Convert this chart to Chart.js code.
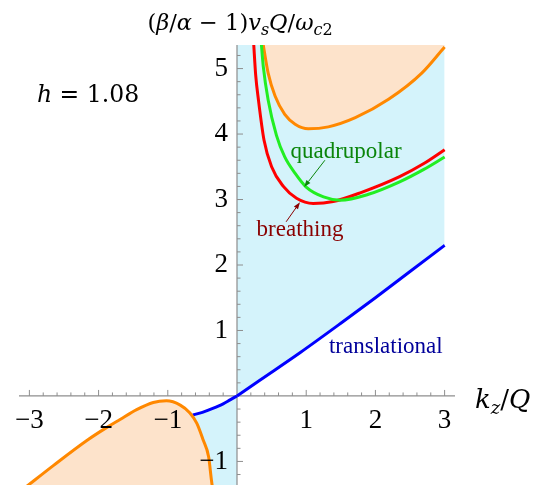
<!DOCTYPE html>
<html>
<head>
<meta charset="utf-8">
<script src="https://cdn.jsdelivr.net/npm/chart.js@4"></script>
<style>
    html, body { margin: 0; padding: 0; background: #fff; }
</style>
</head>
<body>
<canvas id="modesChart" width="543" height="485"></canvas>
<script>
// ====== 資料 (kz/Q, frequency) ======
const transNegKz = [-0.64, -0.5, -0.35, -0.2, -0.1, 0];
const transNegW  = [-0.29, -0.25, -0.19, -0.12, -0.06, 0];
const transPosKz = [0, 0.33, 0.91, 1.5, 2.0, 2.5, 3.0];
const transPosW  = [0, 0.24, 0.66, 1.11, 1.5, 1.9, 2.3];

const orangeLowKz = [-3.05, -2.65, -2.17, -1.88, -1.69, -1.45, -1.21, -1.02, -0.82, -0.68, -0.58, -0.49, -0.41, -0.37, -0.355];
const orangeLowW  = [-1.39, -1.06, -0.68, -0.48, -0.36, -0.21, -0.1, -0.075, -0.14, -0.26, -0.42, -0.67, -0.93, -1.28, -1.4];

const orangeUpKz = [0.37, 0.45, 0.55, 0.69, 0.84, 1.03, 1.32, 1.71, 2.19, 2.67, 3.0];
const orangeUpW  = [5.42, 4.93, 4.58, 4.3, 4.15, 4.08, 4.11, 4.25, 4.53, 4.93, 5.33];

const breathKz = [0.24, 0.27, 0.31, 0.39, 0.5, 0.67, 0.86, 1.1, 1.39, 1.8, 2.35, 2.7, 3.0];
const breathW  = [5.4, 4.9, 4.52, 3.91, 3.5, 3.2, 3.02, 2.94, 2.97, 3.11, 3.35, 3.55, 3.76];

const quadKz = [0.35, 0.38, 0.45, 0.57, 0.69, 0.84, 1.0, 1.25, 1.49, 1.9, 2.35, 2.7, 3.0];
const quadW  = [5.4, 5.03, 4.52, 3.98, 3.65, 3.4, 3.19, 3.04, 2.99, 3.08, 3.27, 3.46, 3.65];

const xTickLabels = [-3, -2, -1, 1, 2, 3];
const yTickLabels = [-1, 1, 2, 3, 4, 5];

const FONT = '"Liberation Serif", "DejaVu Serif", serif';
const MATH_FONT = '"DejaVu Serif", serif';
const CYAN = '#d4f3fb';
const PEACH = '#fde3cb';

function pts(xs, ys) {
    return xs.map((x, i) => ({ x: x, y: ys[i] }));
}

function fmt(v) {
    return v < 0 ? '\u2212' + Math.abs(v) : String(v);
}

// 數學式文字: [text, italic, sub]
function drawRich(ctx, x, y, parts, size, align) {
    const subSize = Math.round(size * 0.7);
    const fontOf = p => (p[1] ? 'italic ' : '') + (p[2] ? subSize : size) + 'px ' + MATH_FONT;
    let total = 0;
    parts.forEach(p => { ctx.font = fontOf(p); total += ctx.measureText(p[0]).width; });
    let cx = align === 'center' ? x - total / 2 : x;
    ctx.textAlign = 'left';
    ctx.textBaseline = 'alphabetic';
    parts.forEach(p => {
        ctx.font = fontOf(p);
        ctx.fillText(p[0], cx, p[2] ? y + size * 0.22 : y);
        cx += ctx.measureText(p[0]).width;
    });
}

function drawArrow(ctx, x1, y1, x2, y2, color) {
    const ang = Math.atan2(y2 - y1, x2 - x1);
    const hl = 7, hw = 2.5;
    ctx.strokeStyle = color;
    ctx.fillStyle = color;
    ctx.lineWidth = 1;
    ctx.beginPath();
    ctx.moveTo(x1, y1);
    ctx.lineTo(x2 - hl * Math.cos(ang), y2 - hl * Math.sin(ang));
    ctx.stroke();
    ctx.beginPath();
    ctx.moveTo(x2, y2);
    ctx.lineTo(x2 - hl * Math.cos(ang) + hw * Math.sin(ang), y2 - hl * Math.sin(ang) - hw * Math.cos(ang));
    ctx.lineTo(x2 - hl * Math.cos(ang) - hw * Math.sin(ang), y2 - hl * Math.sin(ang) + hw * Math.cos(ang));
    ctx.closePath();
    ctx.fill();
}

// 軸線與刻度 (Mathematica 風格, 軸交於原點)
const axesPlugin = {
    id: 'axesPlugin',
    beforeDatasetsDraw(chart) {
        const { ctx, chartArea, scales: { x: xs, y: ys } } = chart;
        const x0 = xs.getPixelForValue(0);
        const y0 = ys.getPixelForValue(0);
        ctx.save();
        ctx.strokeStyle = '#8e8e8e';
        ctx.lineWidth = 1.2;
        ctx.beginPath();
        ctx.moveTo(chartArea.left, y0);
        ctx.lineTo(chartArea.right, y0);
        ctx.moveTo(x0, chartArea.top);
        ctx.lineTo(x0, chartArea.bottom);
        ctx.stroke();

        ctx.lineWidth = 1;
        ctx.beginPath();
        for (let i = -15; i <= 15; i++) {
            if (i === 0) continue;
            const px = xs.getPixelForValue(i / 5);
            const len = i % 5 === 0 ? 6 : 3.5;
            ctx.moveTo(px, y0);
            ctx.lineTo(px, y0 - len);
        }
        for (let i = -6; i <= 26; i++) {
            if (i === 0) continue;
            const py = ys.getPixelForValue(i / 5);
            const len = i % 5 === 0 ? 6 : 3.5;
            ctx.moveTo(x0, py);
            ctx.lineTo(x0 + len, py);
        }
        ctx.stroke();
        ctx.restore();
    },
    afterDatasetsDraw(chart) {
        const { ctx, scales: { x: xs, y: ys } } = chart;
        const x0 = xs.getPixelForValue(0);
        const y0 = ys.getPixelForValue(0);
        ctx.save();
        ctx.fillStyle = '#000';
        ctx.font = '27px ' + FONT;
        ctx.textBaseline = 'middle';
        ctx.textAlign = 'center';
        xTickLabels.forEach(v => ctx.fillText(fmt(v), xs.getPixelForValue(v), y0 + 25));
        ctx.textAlign = 'right';
        yTickLabels.forEach(v => ctx.fillText(fmt(v), x0 - 9, ys.getPixelForValue(v)));

        // 軸標題
        drawRich(ctx, 240, 30, [
            ['(', 0], ['\u03b2', 1], ['/', 0], ['\u03b1', 1], [' \u2212 ', 0], ['1', 0], [')', 0],
            ['v', 1], ['s', 1, 1], ['Q', 1], ['/', 0], ['\u03c9', 1], ['c', 1, 1], ['2', 0, 1]
        ], 22.5, 'center');
        drawRich(ctx, 475, 408, [['k', 1], ['z', 1, 1], ['/', 0], ['Q', 1]], 26, 'left');
        drawRich(ctx, 37, 102, [['h', 1], [' = ', 0], ['1.08', 0]], 23.5, 'left');

        // 模態標籤
        ctx.font = '23px ' + FONT;
        ctx.textAlign = 'center';
        ctx.textBaseline = 'middle';
        ctx.fillStyle = '#0a850a';
        ctx.fillText('quadrupolar', xs.getPixelForValue(1.575), ys.getPixelForValue(3.72));
        ctx.fillStyle = '#8a0000';
        ctx.fillText('breathing', xs.getPixelForValue(0.91), ys.getPixelForValue(2.53));
        ctx.fillStyle = '#00009a';
        ctx.fillText('translational', xs.getPixelForValue(2.15), ys.getPixelForValue(0.75));

        drawArrow(ctx, xs.getPixelForValue(1.27), ys.getPixelForValue(3.6),
            xs.getPixelForValue(0.97), ys.getPixelForValue(3.19), '#0a850a');
        drawArrow(ctx, xs.getPixelForValue(0.71), ys.getPixelForValue(2.66),
            xs.getPixelForValue(0.91), ys.getPixelForValue(2.96), '#8a0000');
        ctx.restore();
    }
};

const lineBase = {
    pointRadius: 0,
    borderWidth: 3,
    cubicInterpolationMode: 'monotone',
    clip: 0
};

new Chart(document.getElementById('modesChart'), {
    type: 'line',
    data: {
        datasets: [
            { ...lineBase, label: 'quadrupolar', data: pts(quadKz, quadW), borderColor: '#22ee22', fill: false },
            { ...lineBase, label: 'breathing', data: pts(breathKz, breathW), borderColor: '#ff0000', fill: false },
            { ...lineBase, label: 'orange upper', data: pts(orangeUpKz, orangeUpW), borderColor: '#ff8800', backgroundColor: PEACH, fill: 'end' },
            { ...lineBase, label: 'orange lower', data: pts(orangeLowKz, orangeLowW), borderColor: '#ff8800', backgroundColor: PEACH, fill: 'start' },
            { ...lineBase, label: 'translational +', data: pts(transPosKz, transPosW), borderColor: '#0000ff', backgroundColor: CYAN, fill: 'end' },
            { ...lineBase, label: 'translational -', data: pts(transNegKz, transNegW), borderColor: '#0000ff', backgroundColor: CYAN, fill: 'start' }
        ]
    },
    options: {
        responsive: false,
        animation: false,
        layout: { padding: { left: 19, right: 88, top: 45, bottom: 0 } },
        scales: {
            x: { type: 'linear', min: -3.15, max: 3.15, display: false },
            y: { type: 'linear', min: -1.36, max: 5.36, display: false }
        },
        plugins: {
            legend: { display: false },
            tooltip: { enabled: false },
            filler: { drawTime: 'beforeDatasetsDraw' }
        }
    },
    plugins: [axesPlugin]
});
</script>
</body>
</html>
